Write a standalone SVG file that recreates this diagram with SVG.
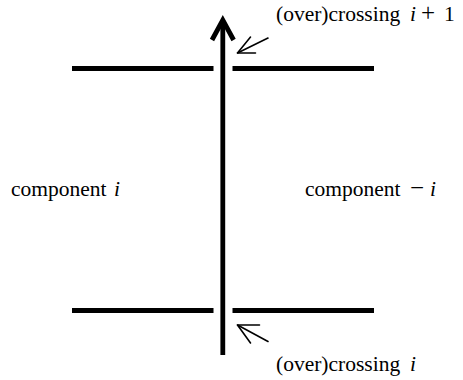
<svg xmlns="http://www.w3.org/2000/svg" width="463" height="380" viewBox="0 0 463 380">
<style>
.thick{stroke:#000;stroke-width:4.8;fill:none}
.thin{stroke:#000;stroke-width:1.6;fill:none;stroke-linecap:round;stroke-linejoin:round}
text{font-family:"Liberation Serif","Times New Roman",serif;font-size:21.5px;fill:#000}
.it{font-style:italic}
.op{font-size:25px}
</style>
<rect width="463" height="380" fill="#fff"/>
<g id="strand-top">
<line class="thick" x1="72" y1="68.5" x2="213.5" y2="68.5"/>
<line class="thick" x1="232.5" y1="68.5" x2="374" y2="68.5"/>
</g>
<g id="strand-bottom">
<line class="thick" x1="72" y1="310.5" x2="213.5" y2="310.5"/>
<line class="thick" x1="232.5" y1="310.5" x2="374" y2="310.5"/>
</g>
<g id="connectors">
<line class="thick" x1="222.8" y1="355" x2="222.8" y2="22"/>
<polyline class="thick" points="212,40 222.8,20 233.6,40" stroke-linejoin="miter"/>
<line class="thin" x1="268" y1="38" x2="237.5" y2="53"/>
<polyline class="thin" points="250.5,37 237.5,53 255.5,53"/>
<line class="thin" x1="268" y1="341.5" x2="237.5" y2="325"/>
<polyline class="thin" points="259.5,325 237.5,325 250.5,343"/>
</g>
<g id="label-left"><text x="11" y="196">component<tspan class="it" x="114">i</tspan></text></g>
<g id="label-right"><text x="305" y="196">component<tspan class="op" x="410">−</tspan><tspan class="it" x="430">i</tspan></text></g>
<g id="label-top"><text x="276" y="21">(over)crossing<tspan class="it" x="410">i</tspan><tspan class="op" x="421">+</tspan><tspan x="444">1</tspan></text></g>
<g id="label-bottom"><text x="276" y="371">(over)crossing<tspan class="it" x="410">i</tspan></text></g>
</svg>
